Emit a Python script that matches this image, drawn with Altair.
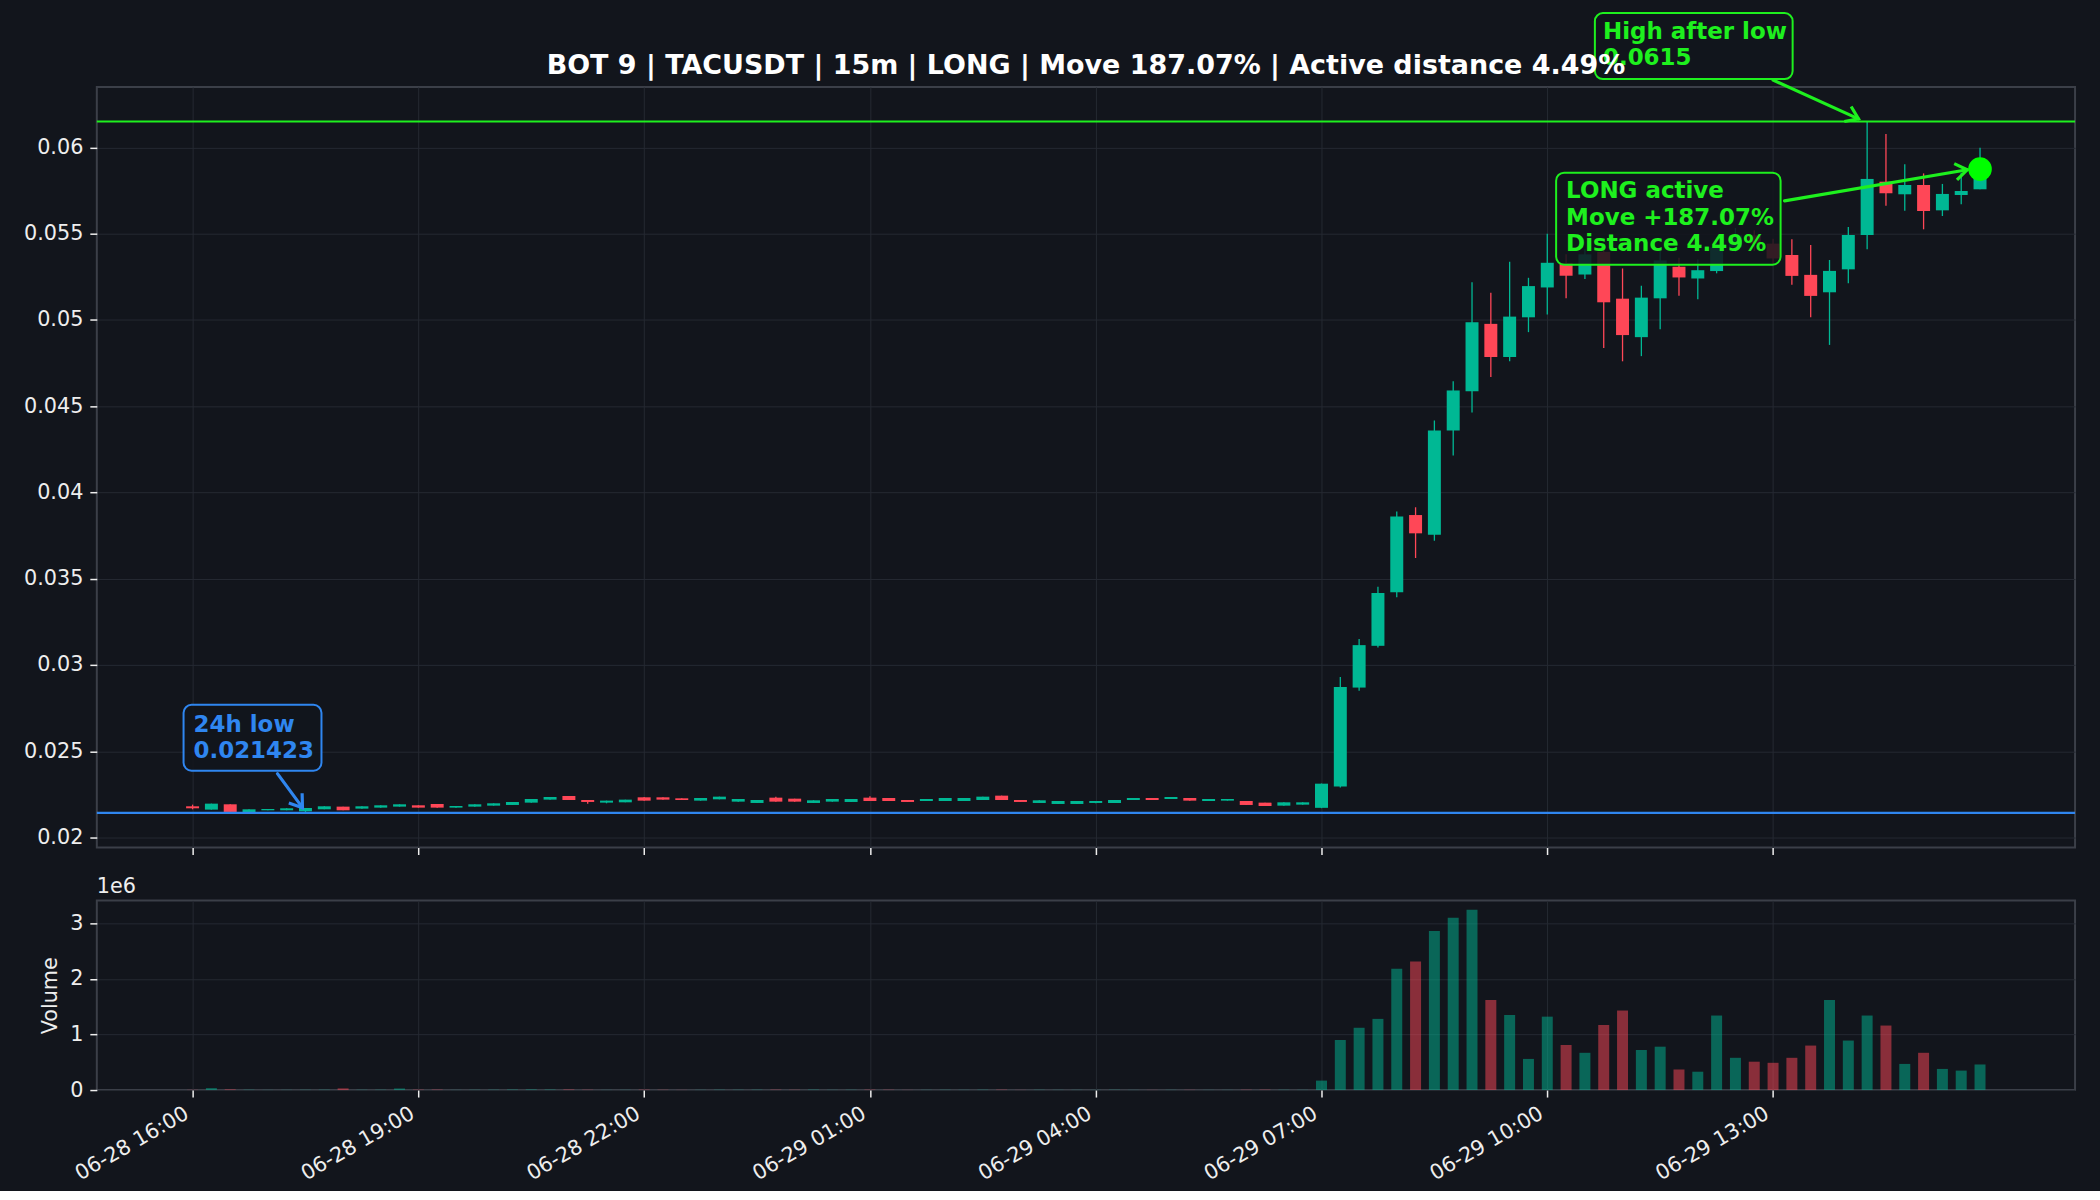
import json
import math
import altair as alt
import pandas as pd

# ---------------- data ----------------
TITLE = "BOT 9 | TACUSDT | 15m | LONG | Move 187.07% | Active distance 4.49%"
TIME_LABELS = ["06-28 16:00", "06-28 19:00", "06-28 22:00", "06-29 01:00",
               "06-29 04:00", "06-29 07:00", "06-29 10:00", "06-29 13:00"]
TICK_IDX = [0, 12, 24, 36, 48, 60, 72, 84]
PRICE_TICKS = [0.02, 0.025, 0.03, 0.035, 0.04, 0.045, 0.05, 0.055, 0.06]
VOLUME_TICKS = [0, 1e6, 2e6, 3e6]

OPEN = [0.021809, 0.021616, 0.021925, 0.021462, 0.021577, 0.021577, 0.021519, 0.021635, 0.021790, 0.021674,
        0.021732, 0.021790, 0.021867, 0.021944, 0.021732, 0.021790, 0.021847, 0.021886, 0.022021, 0.022195,
        0.022407, 0.022175, 0.022021, 0.022040, 0.022330, 0.022330, 0.022272, 0.022137, 0.022214, 0.022079,
        0.022002, 0.022310, 0.022252, 0.022002, 0.022079, 0.022060, 0.022310, 0.022291, 0.022175, 0.022117,
        0.022117, 0.022117, 0.022175, 0.022426, 0.022175, 0.022002, 0.021944, 0.021944, 0.022002, 0.022002,
        0.022175, 0.022291, 0.022233, 0.022291, 0.022117, 0.022137, 0.022117, 0.022021, 0.021847, 0.021905,
        0.021720, 0.02295, 0.02869, 0.03111, 0.03421, 0.03869, 0.03755, 0.04359, 0.04587, 0.04977,
        0.04785, 0.05015, 0.05188, 0.05330, 0.05263, 0.05394, 0.05123, 0.04900, 0.05125, 0.05308,
        0.05240, 0.05283, 0.05420, 0.05490, 0.05442, 0.05376, 0.05261, 0.05160, 0.05293, 0.05492,
        0.05801, 0.05728, 0.05782, 0.05635, 0.05724, 0.05757]
HIGH = [0.021905, 0.021963, 0.021925, 0.021635, 0.021654, 0.021693, 0.021712, 0.021809, 0.021790, 0.021809,
        0.021867, 0.021925, 0.021867, 0.021944, 0.021828, 0.021925, 0.021983, 0.022060, 0.022233, 0.022349,
        0.022407, 0.022175, 0.022137, 0.022195, 0.022350, 0.022330, 0.022272, 0.022291, 0.022368, 0.022233,
        0.022175, 0.022368, 0.022252, 0.022156, 0.022233, 0.022233, 0.022388, 0.022291, 0.022175, 0.022233,
        0.022291, 0.022291, 0.022368, 0.022426, 0.022175, 0.022156, 0.022117, 0.022117, 0.022117, 0.022175,
        0.022291, 0.022291, 0.022349, 0.022291, 0.022233, 0.022233, 0.022117, 0.022021, 0.022040, 0.022040,
        0.023130, 0.02931, 0.03150, 0.03453, 0.03889, 0.03914, 0.04417, 0.04645, 0.05218, 0.05158,
        0.05337, 0.05244, 0.05500, 0.05380, 0.05410, 0.05420, 0.05298, 0.05198, 0.05400, 0.05360,
        0.05350, 0.05480, 0.05533, 0.05520, 0.05470, 0.05467, 0.05434, 0.05347, 0.05539, 0.06150,
        0.06077, 0.05902, 0.05849, 0.05788, 0.05853, 0.05998]
LOW = [0.021635, 0.021616, 0.021481, 0.021450, 0.021577, 0.021577, 0.021423, 0.021635, 0.021577, 0.021674,
       0.021732, 0.021790, 0.021732, 0.021732, 0.021732, 0.021790, 0.021847, 0.021886, 0.022021, 0.022195,
       0.022175, 0.021963, 0.021983, 0.022040, 0.022137, 0.022195, 0.022175, 0.022137, 0.022214, 0.022079,
       0.022002, 0.022079, 0.022079, 0.022002, 0.022079, 0.022060, 0.022117, 0.022117, 0.022060, 0.022117,
       0.022117, 0.022117, 0.022175, 0.022175, 0.022060, 0.022002, 0.021944, 0.021944, 0.021983, 0.022002,
       0.022175, 0.022175, 0.022233, 0.022137, 0.022117, 0.022137, 0.021886, 0.021828, 0.021847, 0.021905,
       0.021700, 0.02290, 0.02850, 0.03101, 0.03392, 0.03620, 0.03720, 0.04214, 0.04463, 0.04669,
       0.04760, 0.04929, 0.05031, 0.05125, 0.05237, 0.04837, 0.04760, 0.04790, 0.04946, 0.05140,
       0.05119, 0.05270, 0.05394, 0.05400, 0.05320, 0.05203, 0.05015, 0.04855, 0.05212, 0.05409,
       0.05662, 0.05633, 0.05525, 0.05602, 0.05670, 0.05757]
CLOSE = [0.021693, 0.021963, 0.021481, 0.021635, 0.021654, 0.021693, 0.021712, 0.021809, 0.021577, 0.021809,
         0.021867, 0.021925, 0.021732, 0.021732, 0.021828, 0.021925, 0.021983, 0.022060, 0.022233, 0.022349,
         0.022175, 0.022060, 0.022137, 0.022195, 0.022137, 0.022195, 0.022175, 0.022291, 0.022368, 0.022233,
         0.022175, 0.022079, 0.022079, 0.022156, 0.022233, 0.022233, 0.022117, 0.022117, 0.022060, 0.022233,
         0.022291, 0.022291, 0.022368, 0.022175, 0.022060, 0.022156, 0.022117, 0.022117, 0.022117, 0.022175,
         0.022291, 0.022175, 0.022349, 0.022137, 0.022233, 0.022233, 0.021886, 0.021828, 0.022040, 0.022040,
         0.023120, 0.02873, 0.03115, 0.03417, 0.03860, 0.03763, 0.04359, 0.04591, 0.04987, 0.04785,
         0.05019, 0.05196, 0.05331, 0.05256, 0.05380, 0.05102, 0.04912, 0.05129, 0.05345, 0.05246,
         0.05288, 0.05420, 0.05490, 0.05442, 0.05356, 0.05255, 0.05139, 0.05284, 0.05492, 0.05817,
         0.05734, 0.05782, 0.05631, 0.05730, 0.05747, 0.05874]
VOLUME = [4000, 35000, 12000, 6000, 3000, 4000, 5000, 6000, 30000, 5000,
          6000, 28000, 7000, 8000, 3000, 5000, 6000, 9000, 11000, 9000,
          10000, 6000, 3000, 4000, 7000, 5000, 3000, 4000, 6000, 5000,
          6000, 7000, 5000, 8000, 4000, 5000, 7000, 6000, 3000, 4000,
          5000, 4000, 6000, 7000, 3000, 5000, 4000, 4000, 3000, 5000,
          3000, 3000, 4000, 4000, 3000, 3000, 6000, 7000, 5000, 4000,
          170000, 900000, 1120000, 1280000, 2180000, 2310000, 2860000, 3100000, 3240000, 1620000,
          1350000, 560000, 1320000, 810000, 670000, 1170000, 1430000, 720000, 780000, 370000,
          330000, 1340000, 580000, 510000, 490000, 580000, 800000, 1620000, 890000, 1340000,
          1160000, 470000, 670000, 380000, 350000, 460000]

LOW_24H = 0.021423
LOW_IDX = 6
HIGH_AFTER_LOW = 0.0615
HIGH_IDX = 89
LOW_TEXT = "24h low\n0.021423"
HIGH_TEXT = "High after low\n0.0615"
ACTIVE_TEXT = "LONG active\nMove +187.07%\nDistance 4.49%"

# ---------------- styling / layout ----------------
BG = "#12151c"
GRID = "#252932"
FRAME = "#3b3f48"
TXT = "#eeeeee"
UP = "#00b894"
DOWN = "#ff4757"
BLUE = "#2f86f0"
LIME = "#1ef01e"
FONT = "DejaVu Sans"

W = 1982
H_MAIN = 762
H_VOL = 190
X_DOM = [-5.09, 100.05]
Y_DOM = [0.01942, 0.0635]
V_DOM = [0, 3.41e6]
PX_PER_X = W / (X_DOM[1] - X_DOM[0])
PX_PER_Y = H_MAIN / (Y_DOM[1] - Y_DOM[0])

# annotation placements (data units, like matplotlib xytext)
LOW_BOX = (-0.48, 6.85, 0.02387, 0.02769)
LOW_TXT_AT = (0.05, 0.02613)
LOW_ARROW = (4.51, 0.02370, 5.84, 0.02173)
HIGH_BOX = (74.53, 85.04, 0.06396, 0.06778)
HIGH_TXT_AT = (74.96, 0.06628)
HIGH_ARROW = (84.00, 0.06390, 88.54, 0.06165)
ACT_BOX = (72.47, 84.40, 0.05320, 0.05853)
ACT_TXT_AT = (73.00, 0.05704)
ACT_ARROW = (84.61, 0.05690, 94.32, 0.05870)

df = pd.DataFrame({"i": list(range(len(OPEN))), "open": OPEN, "high": HIGH,
                   "low": LOW, "close": CLOSE, "volume": VOLUME})

XS = alt.Scale(domain=X_DOM, nice=False, zero=False, padding=0)
YS = alt.Scale(domain=Y_DOM, nice=False, zero=False, padding=0)
VS = alt.Scale(domain=V_DOM, nice=False, zero=False, padding=0)

main_xaxis = alt.Axis(values=TICK_IDX, labels=False, ticks=True, title=None,
                      grid=True, domain=False)
main_yaxis = alt.Axis(values=PRICE_TICKS, format=".3~f", title=None, grid=True, domain=False)

label_expr = f"{json.dumps(TIME_LABELS)}[indexof({json.dumps(TICK_IDX)}, datum.value)]"
vol_xaxis = alt.Axis(values=TICK_IDX, labelExpr=label_expr, title=None, grid=True,
                     domain=False, labelAngle=330, labelAlign="right", labelBaseline="top",
                     labelPadding=6, labelOffset=-11)
vol_yaxis = alt.Axis(values=VOLUME_TICKS, labelExpr="format(datum.value / 1e6, 'd')",
                     title="Volume", titleFontWeight="normal", titleFontSize=20.8,
                     titleColor=TXT, titleFont=FONT, titlePadding=9, grid=True, domain=False)


def X(field):
    return alt.X(field, type="quantitative", scale=XS, axis=main_xaxis)


def Y(field):
    return alt.Y(field, type="quantitative", scale=YS, axis=main_yaxis)


dir_color = alt.Color("dir:N", scale=alt.Scale(domain=["up", "down"], range=[UP, DOWN]), legend=None)

base = alt.Chart(df).transform_calculate(dir="datum.close >= datum.open ? 'up' : 'down'")

wicks = base.mark_rule(strokeWidth=1.3).encode(x=X("i"), y=Y("low"), y2="high", color=dir_color)
bodies = base.mark_bar(size=13).encode(x=X("i"), y=Y("open"), y2="close", color=dir_color)

low_line = alt.Chart(pd.DataFrame({"v": [LOW_24H]})).mark_rule(color=BLUE, strokeWidth=2.2).encode(y=Y("v"))
high_line = alt.Chart(pd.DataFrame({"v": [HIGH_AFTER_LOW]})).mark_rule(color=LIME, strokeWidth=2.2).encode(y=Y("v"))


def box(b, color):
    d = pd.DataFrame({"x1": [b[0]], "x2": [b[1]], "y1": [b[2]], "y2": [b[3]]})
    return alt.Chart(d).mark_rect(cornerRadius=8, stroke=color, strokeWidth=2, fill=BG,
                                  fillOpacity=0.86).encode(
        x=X("x1"), x2="x2", y=Y("y1"), y2="y2")


def label(at, text, color):
    d = pd.DataFrame({"x": [at[0]], "y": [at[1]], "t": [text]})
    return alt.Chart(d).mark_text(align="left", baseline="alphabetic", lineBreak="\n",
                                  lineHeight=26.3, font=FONT, fontSize=23,
                                  fontWeight="bold", color=color).encode(
        x=X("x"), y=Y("y"), text="t:N")


def arrow(a, color):
    dx = (a[2] - a[0]) * PX_PER_X
    dy = -(a[3] - a[1]) * PX_PER_Y
    ang = math.degrees(math.atan2(dy, dx)) % 360
    d = pd.DataFrame({"x1": [a[0]], "y1": [a[1]], "x2": [a[2]], "y2": [a[3]]})
    shaft = alt.Chart(d).mark_rule(color=color, strokeWidth=3.2, strokeCap="round").encode(
        x=X("x1"), y=Y("y1"), x2="x2", y2="y2")
    head = alt.Chart(d).mark_point(shape="M -1 -0.7 L 0 0 L -1 0.7", filled=False,
                                   stroke=color, strokeWidth=3.2, size=560, angle=ang,
                                   opacity=1, strokeJoin="miter").encode(x=X("x2"), y=Y("y2"))
    return shaft + head


dot = alt.Chart(pd.DataFrame({"x": [len(CLOSE) - 1], "y": [CLOSE[-1]]})).mark_circle(
    size=560, color="#00ff00", opacity=1).encode(x=X("x"), y=Y("y"))

title = alt.Chart(pd.DataFrame({"t": [TITLE]})).mark_text(
    font=FONT, fontSize=27, fontWeight="bold", color="#ffffff", align="center",
    baseline="alphabetic").encode(text="t:N", x=alt.value(W / 2), y=alt.value(-12.5))

main = alt.layer(
    wicks, bodies, low_line, high_line,
    box(LOW_BOX, BLUE), box(HIGH_BOX, LIME), box(ACT_BOX, LIME),
    label(LOW_TXT_AT, LOW_TEXT, BLUE), label(HIGH_TXT_AT, HIGH_TEXT, LIME),
    label(ACT_TXT_AT, ACTIVE_TEXT, LIME),
    arrow(LOW_ARROW, BLUE), arrow(HIGH_ARROW, LIME), arrow(ACT_ARROW, LIME),
    dot, title,
).properties(width=W, height=H_MAIN)

vol_bars = base.mark_bar(size=11, opacity=0.5).encode(
    x=alt.X("i:Q", scale=XS, axis=vol_xaxis),
    y=alt.Y("volume:Q", scale=VS, axis=vol_yaxis),
    color=dir_color)
vol_exp = alt.Chart(pd.DataFrame({"t": ["1e6"]})).mark_text(
    font=FONT, fontSize=20.8, color=TXT, align="left", baseline="alphabetic").encode(
    text="t:N", x=alt.value(0), y=alt.value(-7))
vol = alt.layer(vol_bars, vol_exp).properties(width=W, height=H_VOL)

chart = alt.vconcat(main, vol, spacing=53, bounds="flush").properties(
    background=BG, padding={"left": 22, "top": 10, "right": 22, "bottom": 5}
).configure_view(stroke=FRAME, strokeWidth=2, fill=BG).configure_axis(
    labelFont=FONT, labelFontSize=20.8, labelColor=TXT, tickColor=TXT, tickSize=7,
    tickWidth=1.5, labelPadding=7, gridColor=GRID, gridWidth=1, domain=False,
    titleFont=FONT, titleColor=TXT)

chart.save("out.html", embed_options={"renderer": "svg", "actions": False})
